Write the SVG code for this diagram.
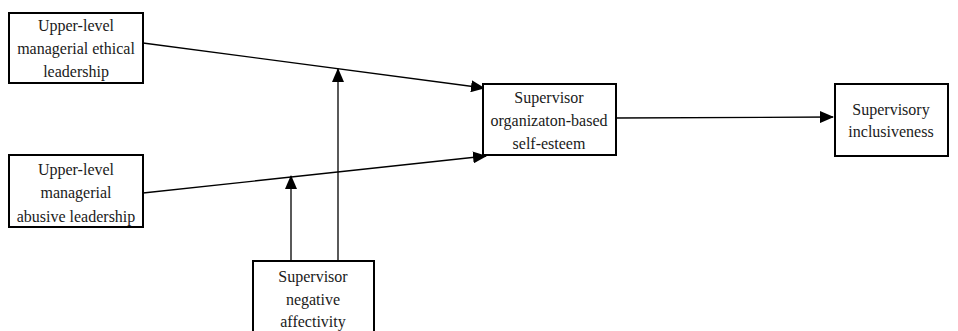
<svg xmlns="http://www.w3.org/2000/svg" width="958" height="331" viewBox="0 0 958 331">
<style>
.box{fill:#fff;stroke:#000;stroke-width:2}
.t{font-family:"Liberation Serif","Times New Roman",Times,serif;font-size:16px;fill:#1a1a1a;text-anchor:middle}
.c{stroke:#000;stroke-width:1.3;fill:none;marker-end:url(#ah)}
</style>
<defs>
<marker id="ah" markerWidth="14" markerHeight="12" refX="13" refY="6" orient="auto" markerUnits="userSpaceOnUse">
<path d="M0,0 L14,6 L0,12 Z" fill="#000"/>
</marker>
</defs>
<g id="connectors">
<line class="c" x1="143" y1="43" x2="484" y2="88"/>
<line class="c" x1="143" y1="193" x2="486" y2="156"/>
<line class="c" x1="616" y1="118" x2="833" y2="117"/>
<line class="c" x1="338" y1="261" x2="338" y2="69"/>
<line class="c" x1="291" y1="261" x2="291" y2="176"/>
</g>
<g id="ethical">
<rect class="box" x="9" y="13" width="134" height="70"/>
<text class="t" font-family="Liberation Serif" x="76" y="31">Upper-level</text>
<text class="t" font-family="Liberation Serif" x="76" y="54">managerial ethical</text>
<text class="t" font-family="Liberation Serif" x="76" y="77">leadership</text>
</g>
<g id="abusive">
<rect class="box" x="9" y="155" width="134" height="72"/>
<text class="t" x="76" y="175">Upper-level</text>
<text class="t" x="76" y="198">managerial</text>
<text class="t" x="76" y="222">abusive leadership</text>
</g>
<g id="negative">
<rect class="box" x="253" y="261" width="121" height="80"/>
<text class="t" x="313" y="282">Supervisor</text>
<text class="t" x="313" y="305">negative</text>
<text class="t" x="313" y="327">affectivity</text>
</g>
<g id="selfesteem">
<rect class="box" x="483" y="84" width="133" height="71"/>
<text class="t" x="549" y="103">Supervisor</text>
<text class="t" x="549" y="126">organizaton-based</text>
<text class="t" x="549" y="149">self-esteem</text>
</g>
<g id="inclusiveness">
<rect class="box" x="835" y="84" width="113" height="72"/>
<text class="t" x="891" y="115">Supervisory</text>
<text class="t" x="891" y="137">inclusiveness</text>
</g>
</svg>
